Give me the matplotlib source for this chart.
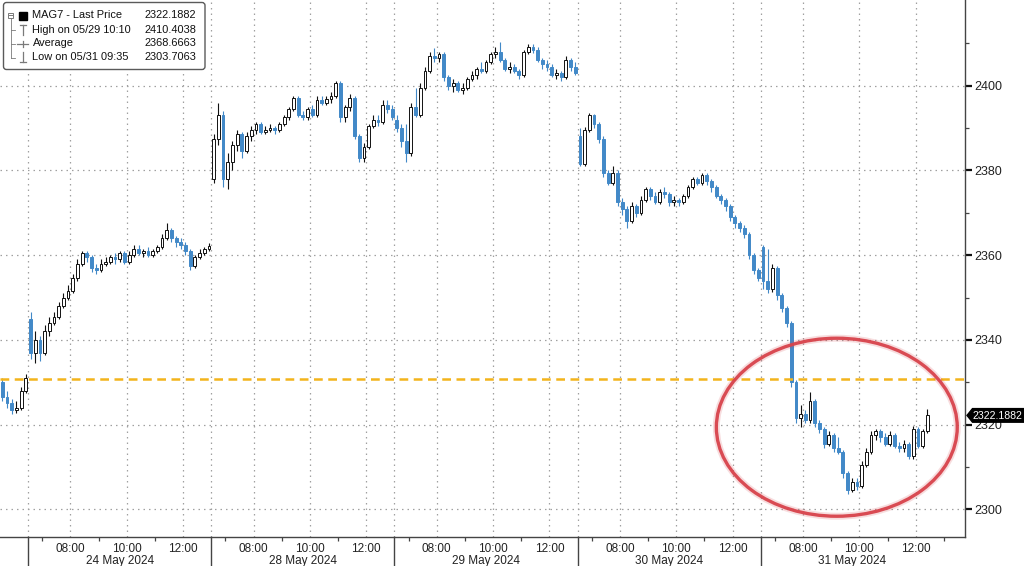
import matplotlib
matplotlib.use("Agg")
import matplotlib.pyplot as plt
import matplotlib.transforms as mtransforms
from matplotlib.patches import Ellipse, FancyBboxPatch, Polygon, Rectangle

plt.rcParams['font.family'] = ['Liberation Sans', 'DejaVu Sans']

# ---------------- data ----------------
session_labels = ['23 May 2024', '24 May 2024', '28 May 2024', '29 May 2024', '30 May 2024', '31 May 2024']
session_first_clock = [12.0, 6.5, 6.5, 6.5, 6.5, 6.5]     # clock hour of first bar
session_hours = [1.0, 6.5, 6.5, 6.5, 6.5, 6.5]            # hours shown per session
bars_per_session = [6, 39, 39, 39, 39, 36]                # 10-minute bars
session_opens = [2330, 2345, 2378, 2392, 2388, 2362]
bar_minutes = 10

closes = [
    # 23 May
    2326.5, 2325, 2323.5, 2324, 2328, 2331,
    # 24 May
    2337, 2340, 2337, 2342, 2344, 2345.5, 2348, 2350, 2351.5, 2354.5, 2358, 2360.5, 2359.5,
    2357, 2356.5, 2358, 2358.5, 2359.5, 2359, 2360.5, 2358.5, 2360, 2361.5, 2360.5, 2361, 2360,
    2361, 2362, 2364, 2366, 2364, 2363, 2362.5, 2361, 2357.5, 2359.5, 2360.5, 2361.5, 2362.2,
    # 28 May
    2387.5, 2393, 2378, 2382, 2386, 2388.5, 2384.5, 2388, 2389.5, 2391, 2389, 2389.5, 2390,
    2389.5, 2391, 2392.5, 2394.5, 2397, 2393, 2392.5, 2394.5, 2393, 2396.5, 2396, 2396.8, 2397.5,
    2400.5, 2392.5, 2395, 2397, 2388, 2383, 2385.5, 2390.5, 2392, 2391.5, 2395.5, 2394.5, 2392.5,
    # 29 May
    2390, 2387, 2384, 2395, 2393, 2399.5, 2403.5, 2407, 2406.5, 2407.5, 2402, 2400, 2400.5,
    2399, 2399.5, 2401.5, 2402.5, 2404, 2403.5, 2405.5, 2407.5, 2408, 2406, 2404, 2404.5, 2403.5,
    2402.5, 2408, 2409.2, 2408.5, 2406, 2405, 2404.5, 2402.5, 2403, 2402, 2406, 2404.5, 2403,
    # 30 May
    2381.5, 2389.5, 2393, 2391, 2387.5, 2379.5, 2377, 2379.5, 2372.5, 2371, 2368, 2371.5, 2370,
    2373, 2375.5, 2374, 2372.5, 2375, 2374.5, 2372.5, 2373, 2372.5, 2374, 2376, 2378, 2377,
    2379, 2377.5, 2376, 2374, 2373, 2371.5, 2369, 2367.5, 2366.5, 2365, 2360, 2356.5, 2354.5,
    # 31 May
    2354, 2352, 2357, 2350.5, 2347.5, 2344, 2330, 2321.5, 2322.5, 2321, 2325.5, 2320.5, 2319,
    2315.5, 2317.5, 2314.5, 2313.5, 2308.5, 2304.5, 2306.5, 2305.5, 2310.5, 2313.5, 2317.5,
    2318.5, 2317, 2315.5, 2317.5, 2315, 2314.5, 2315.5, 2312.5, 2319, 2315, 2318.5, 2322.19,
]

highs = [
    # 23 May
    2331, 2328, 2326, 2325.5, 2329, 2332,
    # 24 May
    2346.5, 2342, 2341, 2343.5, 2345.5, 2346.5, 2349, 2351, 2353, 2355.5, 2359, 2361, 2361,
    2360, 2358, 2359, 2359.5, 2360, 2360.5, 2361, 2361, 2361, 2362.5, 2362.5, 2361.5, 2362,
    2361.5, 2362.5, 2365, 2367.5, 2366.5, 2364.5, 2364, 2363, 2361.5, 2360, 2361.5, 2362, 2362.8,
    # 28 May
    2388.5, 2396, 2394, 2384, 2387, 2389.5, 2389, 2389, 2390.5, 2391.5, 2391.5, 2390.5, 2391,
    2390.5, 2391.5, 2393, 2395, 2397.5, 2397.5, 2394, 2395, 2395.5, 2397.5, 2397.5, 2397.5, 2398.5,
    2401.2, 2401, 2395.5, 2398, 2397.5, 2388.5, 2386.5, 2391, 2393, 2393, 2396.5, 2396.5, 2395.5,
    # 29 May
    2393, 2391, 2391, 2396, 2399.5, 2400.5, 2404.5, 2408, 2408.8, 2408, 2408, 2402.5, 2401.5,
    2401, 2400.5, 2402, 2403.5, 2404.5, 2405.5, 2406, 2408, 2409, 2410.4, 2406.5, 2405.5, 2405,
    2404, 2408.5, 2409.8, 2409.8, 2409, 2406.5, 2406, 2405, 2404, 2403.5, 2407, 2406.5, 2405.5,
    # 30 May
    2390, 2390.2, 2393.5, 2393.3, 2391.5, 2388, 2380, 2381, 2380, 2373.5, 2371.5, 2372.5, 2372,
    2374, 2376, 2376, 2375, 2375.5, 2376, 2375, 2374, 2373.5, 2374.5, 2376.5, 2378.5, 2378.5,
    2379.5, 2379.5, 2378, 2376.5, 2374.5, 2373.5, 2372, 2369.5, 2368, 2367, 2365.5, 2360.5, 2357,
    # 31 May
    2362.5, 2361.5, 2358, 2357.5, 2351, 2348, 2344.5, 2330.5, 2324.6, 2323.5, 2327.7, 2326, 2321,
    2319.5, 2318.5, 2318, 2317, 2314, 2309, 2307.5, 2307.5, 2311.5, 2314.5, 2318.5, 2319, 2319,
    2318, 2318.5, 2318, 2316, 2316.5, 2316, 2319.8, 2319.5, 2319, 2323.6,
]

lows = [
    # 23 May
    2325.5, 2324, 2322.5, 2322.8, 2323.5, 2327.5,
    # 24 May
    2335.5, 2334.5, 2335, 2336.5, 2341, 2343.5, 2345, 2347.5, 2349.5, 2351, 2354, 2357.5, 2358.5,
    2356, 2355.5, 2356, 2357.5, 2358, 2358, 2358.5, 2358, 2358, 2359.5, 2360, 2359.5, 2359.5,
    2359.5, 2360.5, 2361.5, 2363.5, 2363, 2362, 2361.5, 2360, 2356.5, 2357, 2359, 2360, 2361,
    # 28 May
    2377, 2386, 2376, 2375.5, 2380, 2384.5, 2383, 2384, 2387, 2388.5, 2388.5, 2388.5, 2389,
    2388.5, 2389, 2390.5, 2392, 2394, 2392.5, 2392, 2392, 2392.5, 2392.5, 2395.5, 2395.5, 2396,
    2397, 2391.5, 2391.5, 2394, 2387.5, 2382, 2382, 2385, 2390, 2390.5, 2391, 2393.5, 2392,
    # 29 May
    2389, 2385.5, 2382, 2383.5, 2392.5, 2392.5, 2399, 2403, 2405.5, 2405.5, 2401, 2399, 2398.5,
    2398.5, 2398, 2399, 2401, 2401.5, 2403, 2403, 2405, 2406.5, 2405.5, 2403.5, 2403, 2403,
    2401.5, 2402, 2407.5, 2407.8, 2405.5, 2404, 2403.5, 2402, 2401.5, 2401, 2401.5, 2403.5, 2402.5,
    # 30 May
    2381, 2381, 2389, 2390, 2386.5, 2378.5, 2376.5, 2376.5, 2371.5, 2369.5, 2366.5, 2367.5, 2369,
    2369.5, 2372.5, 2373, 2372, 2372, 2373.5, 2371.5, 2371.5, 2371.5, 2372, 2373.5, 2375.5, 2376.5,
    2376.5, 2376.5, 2375, 2373.5, 2372, 2370.5, 2368, 2366.5, 2365.5, 2364, 2359, 2355.5, 2354,
    # 31 May
    2352, 2351, 2351.3, 2349.5, 2346.5, 2343, 2328.8, 2320.4, 2319.5, 2320.5, 2320.5, 2319.5, 2318,
    2314.5, 2315, 2313.5, 2313, 2307.5, 2303.7, 2304, 2304.5, 2305, 2310, 2313, 2316.5, 2316,
    2315, 2315, 2314.5, 2313.5, 2313.5, 2312, 2312, 2314.5, 2314.5, 2318,
]

reference_level = 2330.7
y_ticks = [2300, 2320, 2340, 2360, 2380, 2400]
y_minor = [2310, 2330, 2350, 2370, 2390, 2410]
time_labels = ['08:00', '10:00', '12:00']
time_label_hours = [8, 10, 12]
minor_tick_hours = [7, 9, 11]

legend_rows = ['MAG7 - Last Price', 'High on 05/29 10:10', 'Average', 'Low on 05/31 09:35']
legend_values = ['2322.1882', '2410.4038', '2368.6663', '2303.7063']
last_price_label = '2322.1882'

# ---------------- layout ----------------
W, H = 1024, 566
fig = plt.figure(figsize=(W / 100, H / 100), dpi=100)
fig.patch.set_facecolor('white')
ax = fig.add_axes([0, 29 / H, 965 / W, 537 / H])
ax.set_facecolor('white')

offsets = []
acc = 0.0
for h in session_hours:
    offsets.append(acc)
    acc += h
x_max = acc + 0.75

def clock_to_x(s, hour):
    return offsets[s] + (hour - session_first_clock[s])

# build bar arrays
bx, bo, bh, bl, bc = [], [], [], [], []
k = 0
for s, n in enumerate(bars_per_session):
    prev = session_opens[s]
    for i in range(n):
        c = closes[k]
        bx.append(offsets[s] + (i + 0.5) * bar_minutes / 60.0)
        bo.append(prev)
        bc.append(c)
        bh.append(max(highs[k], prev, c))
        bl.append(min(lows[k], prev, c))
        prev = c
        k += 1

blue = '#4289c8'
width = 0.1
for x, o, h, l, c in zip(bx, bo, bh, bl, bc):
    up = c >= o
    col = '#111111' if up else blue
    ax.plot([x, x], [l, h], color=col, lw=0.8, zorder=3, solid_capstyle='butt')
    lo_b = min(o, c)
    hgt = max(abs(c - o), 0.25)
    ax.add_patch(Rectangle((x - width / 2, lo_b), width, hgt,
                           facecolor='white' if up else blue,
                           edgecolor=col, lw=0.7, zorder=4))

ax.set_xlim(0, x_max)
ax.set_ylim(2293.5, 2420.2)

# grid
grid_kw = dict(color='#a0a0a0', lw=0.9, linestyle=(0, (1.2, 3.2)), zorder=1)
for yv in y_ticks:
    ax.axhline(yv, **grid_kw)
boundaries = offsets[1:]
for s in range(1, len(session_labels)):
    for hr in time_label_hours:
        ax.axvline(clock_to_x(s, hr), **grid_kw)
for b in boundaries:
    ax.axvline(b, **grid_kw)

# reference dashed line
ax.axhline(reference_level, color='#f3b41c', lw=1.8, linestyle=(0, (3.5, 2.2)), zorder=5)

# highlight ellipse
for lw_, a_ in [(5.0, 0.18), (2.4, 0.95)]:
    ax.add_patch(Ellipse((29.70, 2319.4), 8.55, 42.0, fill=False,
                         edgecolor='#d8434c', lw=lw_, alpha=a_, zorder=6))

# spines
for sp in ['top', 'left']:
    ax.spines[sp].set_visible(False)
for sp in ['right', 'bottom']:
    ax.spines[sp].set_color('#444444')
    ax.spines[sp].set_linewidth(1.0)

# y axis on right
ax.yaxis.tick_right()
ax.set_yticks(y_ticks)
ax.set_yticks(y_minor, minor=True)
ax.set_yticklabels([str(v) for v in y_ticks])
ax.tick_params(axis='y', which='major', direction='out', length=5, width=1.6,
               colors='#111111', labelsize=9, pad=2, labelcolor='#222222')
ax.tick_params(axis='y', which='minor', direction='out', length=3, width=0.9, colors='#444444')

# x axis
xt, xl = [], []
xm = []
for s in range(1, len(session_labels)):
    for hr, lab in zip(time_label_hours, time_labels):
        xt.append(clock_to_x(s, hr))
        xl.append(lab)
    for hr in minor_tick_hours:
        xm.append(clock_to_x(s, hr))
xm.append(clock_to_x(len(session_labels) - 1, 13))
ax.set_xticks(xt)
ax.set_xticklabels(xl)
ax.set_xticks(xm, minor=True)
ax.tick_params(axis='x', which='major', length=0, labelsize=8.5, pad=4, labelcolor='#222222')
ax.tick_params(axis='x', which='minor', direction='out', length=3, width=0.9, colors='#444444')

blend = mtransforms.blended_transform_factory(ax.transData, ax.transAxes)
for b in boundaries:
    ax.plot([b, b], [0, -29 / 537], color='#444444', lw=1.0, transform=blend, clip_on=False)
for s in range(1, len(session_labels)):
    mid = offsets[s] + session_hours[s] / 2
    ax.annotate(session_labels[s], xy=(mid, 0), xycoords=blend, xytext=(0, -17.5),
                textcoords='offset points', ha='center', va='center',
                fontsize=8.5, color='#222222', annotation_clip=False)

# ---------------- overlay (legend + last price tag) ----------------
ov = fig.add_axes([0, 0, 1, 1], zorder=10)
ov.set_xlim(0, W)
ov.set_ylim(H, 0)
ov.axis('off')
ov.patch.set_alpha(0)

ov.add_patch(FancyBboxPatch((3.5, 2.5), 201.5, 67, boxstyle='round,pad=0,rounding_size=3',
                            facecolor='white', edgecolor='#5a5a5a', lw=1.0))
row_y = [15.5, 30, 43.5, 57.5]
g = '#7a7a7a'
# tree
ov.add_patch(Rectangle((8, 12.5), 5, 5, facecolor='white', edgecolor=g, lw=0.7))
ov.plot([9, 12], [15, 15], color=g, lw=0.7)
ov.plot([10.5, 10.5], [17.5, row_y[3]], color=g, lw=0.6)
for yy in row_y[1:]:
    ov.plot([10.5, 15], [yy, yy], color=g, lw=0.6)
ov.add_patch(Rectangle((19, 11.5), 8, 8, facecolor='black', edgecolor='black'))
ov.plot([19.5, 25.5], [24.5, 24.5], color=g, lw=0.9)
ov.plot([22.5, 22.5], [24.5, 35], color=g, lw=0.9)
ov.plot([17, 28], [row_y[2], row_y[2]], color=g, lw=0.9)
ov.plot([22.5, 22.5], [40.5, 46.5], color=g, lw=0.9)
ov.plot([22.5, 22.5], [51.5, 62], color=g, lw=0.9)
ov.plot([19.5, 25.5], [62, 62], color=g, lw=0.9)
for yy, lab, val in zip(row_y, legend_rows, legend_values):
    ov.text(32.5, yy, lab, ha='left', va='center', fontsize=7.9, color='#111111')
    ov.text(196, yy, val, ha='right', va='center', fontsize=7.9, color='#111111')

# last price tag at right axis
disp = ax.transData.transform((x_max, bc[-1]))
ty = H - disp[1]
tx = disp[0] + 2
ov.add_patch(Polygon([(tx, ty), (tx + 5.5, ty - 6.8), (W, ty - 6.8), (W, ty + 6.8), (tx + 5.5, ty + 6.8)],
                     closed=True, facecolor='black', edgecolor='black', zorder=20))
ov.text(tx + 5.5, ty + 0.5, last_price_label, ha='left', va='center', fontsize=7.6,
        color='white', zorder=21)

fig.savefig('out.png', dpi=100, facecolor='white')
